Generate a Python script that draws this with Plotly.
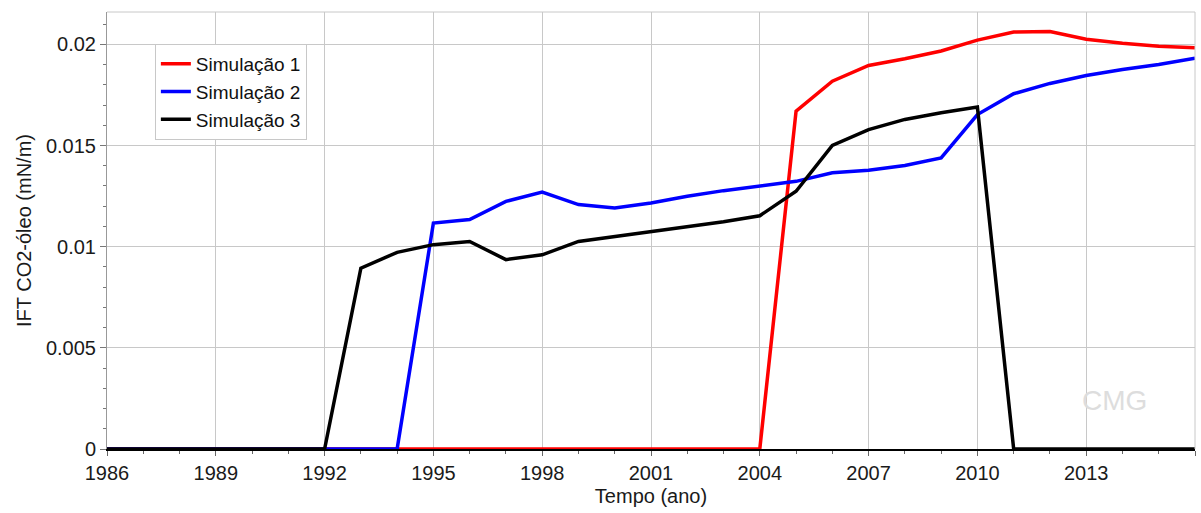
import plotly.graph_objects as go

years = list(range(1986, 2017))

sim1 = [0]*19 + [0.0167, 0.01818, 0.01896, 0.01929, 0.01967, 0.02021, 0.02061,
                 0.02064, 0.02025, 0.02005, 0.01991, 0.01983]
sim2 = [0]*9 + [0.01117, 0.01134, 0.01224, 0.0127, 0.01208, 0.01191, 0.01216,
                0.01249, 0.01277, 0.01302, 0.01323, 0.01365, 0.01378, 0.01401,
                0.01439, 0.01653, 0.01756, 0.01807, 0.01846, 0.01876, 0.01901, 0.01931]
sim3 = [0]*7 + [0.00894, 0.00972, 0.0101, 0.01026, 0.00936, 0.0096, 0.01026,
                0.01051, 0.01076, 0.011, 0.01123, 0.01153, 0.01274, 0.01501,
                0.01579, 0.01629, 0.01662, 0.0169] + [0]*6

names = ["Simulação 1", "Simulação 2", "Simulação 3"]
colors = ["#ff0000", "#0000ff", "#000000"]
series = [sim1, sim2, sim3]

fig = go.Figure()
for n, c, s in zip(names, colors, series):
    fig.add_trace(go.Scatter(x=years, y=s, mode="lines", name=n,
                             line=dict(color=c, width=3.5)))

font = "Liberation Sans, Arial, sans-serif"
fig.update_layout(
    width=1201, height=513,
    margin=dict(l=107, r=6, t=12, b=64),
    paper_bgcolor="white", plot_bgcolor="white",
    font=dict(family=font, size=20, color="#1a1a1a"),
    showlegend=True,
    legend=dict(x=0.044, y=0.927, xanchor="left", yanchor="top",
                bgcolor="white", bordercolor="#c8c8c8", borderwidth=1,
                font=dict(family=font, size=19, color="#111111"),
                tracegroupgap=0, itemwidth=30),
    xaxis=dict(range=[1986, 2016], tick0=1986, dtick=3,
               showgrid=True, gridcolor="#c8c8c8", gridwidth=1,
               showline=True, linecolor="#000000", linewidth=2,
               ticks="outside", ticklen=5, tickcolor="#666666",
               minor=dict(dtick=1, ticks="outside", ticklen=3, tickcolor="#666666", showgrid=False),
               tickfont=dict(size=20, family=font),
               title=dict(text="Tempo (ano)", font=dict(size=20, family=font), standoff=6),
               zeroline=False),
    yaxis=dict(range=[0, 0.0216], tick0=0, dtick=0.005,
               showgrid=True, gridcolor="#c8c8c8", gridwidth=1,
               showline=True, linecolor="#999999", linewidth=1,
               ticks="outside", ticklen=6, tickcolor="#777777",
               minor=dict(dtick=0.001, ticks="outside", ticklen=3, tickcolor="#777777", showgrid=False),
               tickfont=dict(size=20, family=font),
               title=dict(text="IFT CO2-óleo (mN/m)", font=dict(size=20, family=font), standoff=8),
               zeroline=False, tickformat="~g"),
    shapes=[dict(type="line", xref="paper", yref="paper", x0=0, x1=1, y0=1, y1=1,
                 line=dict(color="#c8c8c8", width=1)),
            dict(type="line", xref="paper", yref="paper", x0=1, x1=1, y0=0, y1=1,
                 line=dict(color="#c8c8c8", width=1))],
    annotations=[dict(text="CMG", xref="paper", yref="paper", x=0.958, y=0.07,
                      showarrow=False, font=dict(family=font, size=28, color="#dddddd"))],
)

fig.write_html("out.html")
